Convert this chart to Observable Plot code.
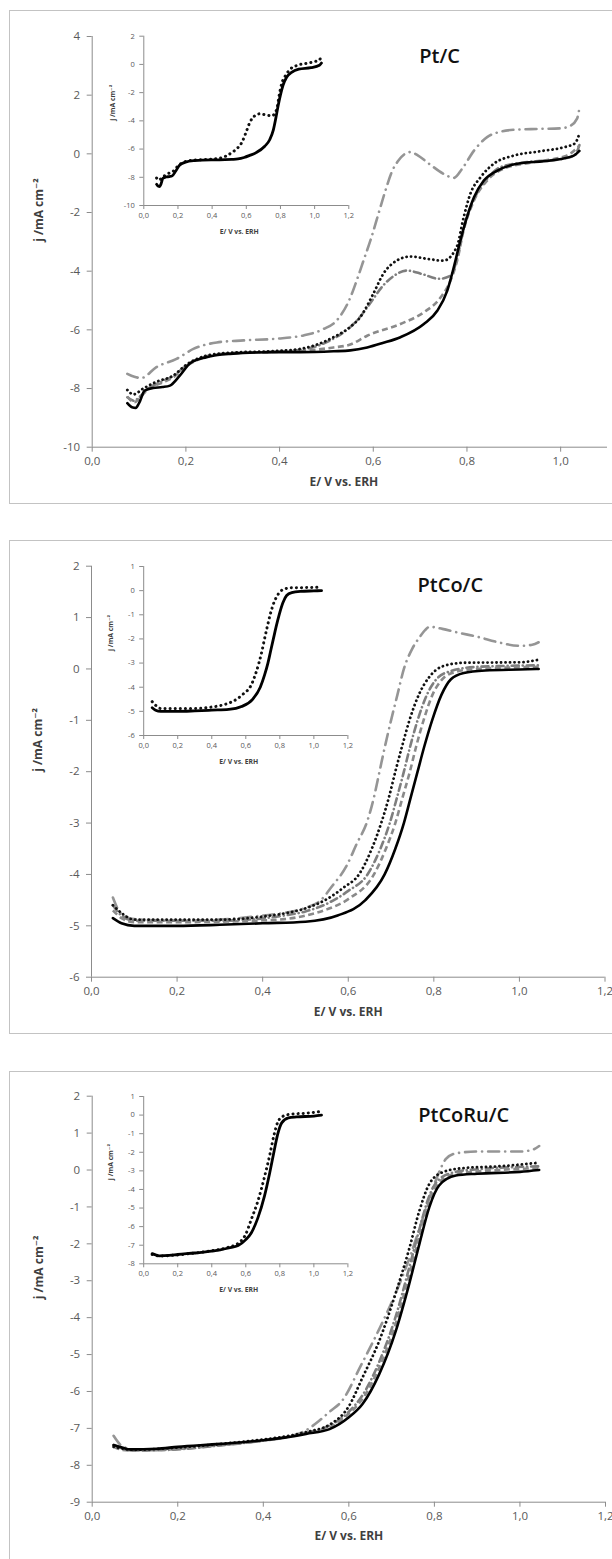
<!DOCTYPE html>
<html><head><meta charset="utf-8">
<script src="https://cdn.jsdelivr.net/npm/d3@7"></script>
<script src="https://cdn.jsdelivr.net/npm/@observablehq/plot@0.6"></script>
<style>
html,body{margin:0;padding:0;background:#fff;width:612px;height:1559px;overflow:hidden;}
#page{position:relative;width:612px;height:1559px;overflow:hidden;background:#fff;}
.frame{position:absolute;border:1px solid #c3c3c3;box-sizing:border-box;}
.layer{position:absolute;}
</style></head><body><div id="page"></div>
<script>
// ---------- DATA (E / V vs ERH, j / mA cm-2) ----------
const titles = ["Pt/C", "PtCo/C", "PtCoRu/C"];
const xLabel = "E/ V vs. ERH";
const yLabel = "j /mA cm\u207B\u00B2";

const mainXTicks = [0, 0.2, 0.4, 0.6, 0.8, 1.0];
const mainXTicks23 = [0, 0.2, 0.4, 0.6, 0.8, 1.0, 1.2];
const insetXTicks = [0, 0.2, 0.4, 0.6, 0.8, 1.0, 1.2];
const p1YTicks = [4, 2, 0, -2, -4, -6, -8, -10];
const p2YTicks = [2, 1, 0, -1, -2, -3, -4, -5, -6];
const p3YTicks = [2, 1, 0, -1, -2, -3, -4, -5, -6, -7, -8, -9];
const p1InsetYTicks = [2, 0, -2, -4, -6, -8, -10];
const p2InsetYTicks = [1, 0, -1, -2, -3, -4, -5, -6];
const p3InsetYTicks = [1, 0, -1, -2, -3, -4, -5, -6, -7, -8];

// Panel 1: Pt/C
const p1Solid = [[0.075,-8.5],[0.085,-8.64],[0.093,-8.66],[0.1,-8.5],[0.112,-8.07],[0.13,-7.98],[0.15,-7.95],[0.166,-7.9],[0.187,-7.56],[0.209,-7.14],[0.244,-6.93],[0.294,-6.82],[0.394,-6.76],[0.444,-6.76],[0.515,-6.73],[0.551,-6.7],[0.587,-6.6],[0.62,-6.45],[0.658,-6.25],[0.708,-5.8],[0.737,-5.34],[0.758,-4.66],[0.772,-3.86],[0.786,-2.95],[0.8,-2.16],[0.815,-1.48],[0.836,-0.91],[0.865,-0.57],[0.907,-0.34],[0.978,-0.23],[1.028,-0.06],[1.04,0.1]];
const p1Dotted = [[0.075,-8.05],[0.088,-8.2],[0.109,-8.0],[0.137,-7.77],[0.173,-7.56],[0.2,-7.2],[0.244,-6.88],[0.294,-6.78],[0.394,-6.72],[0.444,-6.65],[0.48,-6.5],[0.515,-6.25],[0.551,-5.9],[0.572,-5.57],[0.6,-4.77],[0.621,-4.1],[0.65,-3.64],[0.679,-3.5],[0.715,-3.58],[0.75,-3.64],[0.778,-3.18],[0.793,-2.16],[0.807,-1.37],[0.829,-0.8],[0.857,-0.34],[0.9,-0.06],[0.957,0.09],[1.013,0.25],[1.03,0.35],[1.04,0.68]];
const p1Dashed = [[0.075,-8.27],[0.09,-8.47],[0.1,-8.35],[0.12,-8.0],[0.15,-7.8],[0.175,-7.6],[0.2,-7.25],[0.244,-6.92],[0.294,-6.8],[0.394,-6.75],[0.444,-6.72],[0.515,-6.6],[0.551,-6.5],[0.587,-6.2],[0.658,-5.8],[0.708,-5.4],[0.744,-4.89],[0.765,-4.32],[0.779,-3.64],[0.793,-2.6],[0.815,-1.59],[0.843,-0.91],[0.878,-0.51],[0.943,-0.28],[1.013,-0.06],[1.04,0.28]];
const p1DashDot = [[0.075,-8.3],[0.09,-8.42],[0.1,-8.3],[0.12,-8.0],[0.15,-7.75],[0.175,-7.55],[0.2,-7.22],[0.244,-6.9],[0.294,-6.8],[0.394,-6.74],[0.444,-6.68],[0.48,-6.55],[0.515,-6.3],[0.551,-5.9],[0.568,-5.63],[0.593,-5.1],[0.621,-4.49],[0.645,-4.15],[0.672,-3.98],[0.705,-4.1],[0.74,-4.26],[0.765,-4.15],[0.78,-3.5],[0.793,-2.5],[0.815,-1.55],[0.843,-0.85],[0.872,-0.45],[0.93,-0.28],[1.0,-0.18],[1.03,-0.05],[1.04,0.3]];
const p1LongDashDot = [[0.075,-7.5],[0.09,-7.6],[0.105,-7.64],[0.137,-7.27],[0.18,-6.99],[0.216,-6.65],[0.266,-6.43],[0.323,-6.36],[0.394,-6.3],[0.451,-6.19],[0.494,-5.97],[0.522,-5.68],[0.551,-4.9],[0.565,-4.3],[0.58,-3.6],[0.595,-2.9],[0.61,-2.1],[0.625,-1.3],[0.64,-0.6],[0.655,-0.2],[0.67,0.02],[0.68,0.06],[0.695,-0.05],[0.72,-0.35],[0.75,-0.68],[0.772,-0.82],[0.79,-0.5],[0.815,0.11],[0.843,0.57],[0.87,0.75],[0.9,0.82],[0.95,0.85],[1.0,0.87],[1.02,0.95],[1.035,1.2],[1.04,1.55]];

// Panel 2: PtCo/C
const p2Solid = [[0.05,-4.85],[0.07,-4.95],[0.1,-5.0],[0.2,-5.0],[0.3,-4.98],[0.4,-4.95],[0.5,-4.92],[0.575,-4.8],[0.64,-4.5],[0.685,-4.0],[0.71,-3.5],[0.73,-3.0],[0.746,-2.5],[0.762,-2.0],[0.778,-1.5],[0.796,-1.0],[0.818,-0.5],[0.84,-0.2],[0.87,-0.08],[0.92,-0.03],[1.0,-0.01],[1.045,0.0]];
const p2Dashed = [[0.05,-4.7],[0.07,-4.85],[0.1,-4.93],[0.2,-4.93],[0.3,-4.92],[0.45,-4.87],[0.5,-4.8],[0.55,-4.68],[0.6,-4.48],[0.66,-4.0],[0.688,-3.5],[0.71,-3.0],[0.727,-2.5],[0.744,-2.0],[0.759,-1.5],[0.776,-1.0],[0.797,-0.5],[0.82,-0.2],[0.85,-0.06],[0.9,0.0],[1.045,0.04]];
const p2DashDot = [[0.05,-4.6],[0.07,-4.8],[0.1,-4.9],[0.2,-4.9],[0.3,-4.9],[0.45,-4.8],[0.5,-4.72],[0.55,-4.57],[0.6,-4.32],[0.645,-4.0],[0.675,-3.5],[0.697,-3.0],[0.714,-2.5],[0.73,-2.0],[0.745,-1.5],[0.762,-1.0],[0.784,-0.5],[0.806,-0.2],[0.84,-0.04],[0.9,0.04],[1.045,0.07]];
const p2Dotted = [[0.05,-4.6],[0.07,-4.75],[0.1,-4.88],[0.2,-4.88],[0.3,-4.88],[0.4,-4.82],[0.45,-4.76],[0.5,-4.66],[0.55,-4.48],[0.59,-4.25],[0.625,-4.0],[0.655,-3.5],[0.677,-3.0],[0.695,-2.5],[0.71,-2.0],[0.726,-1.5],[0.743,-1.0],[0.765,-0.5],[0.79,-0.15],[0.82,0.05],[0.87,0.12],[1.0,0.13],[1.045,0.18]];
const p2LongDashDot = [[0.05,-4.45],[0.06,-4.65],[0.08,-4.82],[0.1,-4.87],[0.2,-4.9],[0.3,-4.88],[0.4,-4.8],[0.45,-4.75],[0.5,-4.65],[0.536,-4.5],[0.563,-4.22],[0.595,-3.85],[0.62,-3.4],[0.645,-2.95],[0.66,-2.5],[0.673,-2.0],[0.686,-1.5],[0.7,-1.0],[0.715,-0.5],[0.73,0.0],[0.75,0.4],[0.767,0.62],[0.78,0.76],[0.79,0.82],[0.82,0.78],[0.86,0.7],[0.9,0.63],[0.95,0.52],[1.0,0.45],[1.03,0.47],[1.045,0.52]];

// Panel 3: PtCoRu/C
const p3Solid = [[0.05,-7.45],[0.07,-7.52],[0.09,-7.57],[0.15,-7.55],[0.2,-7.5],[0.3,-7.42],[0.4,-7.32],[0.45,-7.25],[0.5,-7.15],[0.555,-7.02],[0.6,-6.7],[0.632,-6.34],[0.671,-5.53],[0.71,-4.35],[0.741,-3.09],[0.765,-2.0],[0.788,-1.01],[0.811,-0.42],[0.85,-0.15],[0.9,-0.1],[1.0,-0.05],[1.045,0.0]];
const p3Dashed = [[0.05,-7.5],[0.07,-7.58],[0.1,-7.6],[0.2,-7.56],[0.3,-7.45],[0.4,-7.33],[0.5,-7.13],[0.55,-7.0],[0.6,-6.6],[0.632,-6.2],[0.671,-5.35],[0.71,-4.15],[0.741,-2.85],[0.765,-1.8],[0.788,-0.85],[0.811,-0.33],[0.85,-0.1],[0.9,-0.04],[1.045,0.05]];
const p3DashDot = [[0.05,-7.45],[0.07,-7.55],[0.1,-7.6],[0.2,-7.57],[0.3,-7.46],[0.4,-7.33],[0.5,-7.12],[0.55,-6.95],[0.6,-6.55],[0.632,-6.1],[0.671,-5.2],[0.71,-3.95],[0.741,-2.65],[0.765,-1.6],[0.788,-0.7],[0.811,-0.25],[0.85,-0.05],[0.9,0.02],[1.045,0.1]];
const p3Dotted = [[0.05,-7.5],[0.07,-7.55],[0.1,-7.58],[0.2,-7.52],[0.3,-7.42],[0.4,-7.3],[0.45,-7.22],[0.5,-7.1],[0.555,-6.9],[0.6,-6.4],[0.632,-5.62],[0.671,-4.63],[0.71,-3.32],[0.741,-2.14],[0.765,-1.1],[0.788,-0.38],[0.819,-0.06],[0.865,0.05],[0.95,0.1],[1.045,0.2]];
const p3LongDashDot = [[0.05,-7.2],[0.07,-7.48],[0.1,-7.58],[0.2,-7.55],[0.3,-7.45],[0.4,-7.33],[0.45,-7.25],[0.5,-7.05],[0.53,-6.8],[0.555,-6.55],[0.585,-6.24],[0.628,-5.3],[0.671,-4.31],[0.71,-3.32],[0.745,-2.28],[0.776,-1.19],[0.806,-0.2],[0.827,0.3],[0.85,0.45],[0.9,0.5],[1.0,0.5],[1.03,0.55],[1.045,0.65]];

// ---------- STYLES ----------
const axisColor = "#8c8c8c";
const tickTextColor = "#595959";
const labelColor = "#3f3f3f";
const FONT = "'Open Sans', 'DejaVu Sans', sans-serif";
const styleLongDashDot = {stroke: "#959595", strokeWidth: 2.6, strokeDasharray: "11,6,0.1,6", strokeLinecap: "round"};
const styleDashDot = {stroke: "#7e7e7e", strokeWidth: 2.6, strokeDasharray: "7,4,0.1,4", strokeLinecap: "round"};
const styleDashed = {stroke: "#8a8a8a", strokeWidth: 2.6, strokeDasharray: "6,3.5", strokeLinecap: "butt"};
const styleDotted = {stroke: "#111", strokeWidth: 2.8, strokeDasharray: "0.1,4.4", strokeLinecap: "round"};
const styleSolid = {stroke: "#000", strokeWidth: 2.6};

const fmtX = d => d.toFixed(1).replace(".", ",");
const fmtY = d => String(d);

const page = document.getElementById("page");
function addFrame(left, top, w, h) {
  const f = document.createElement("div");
  f.className = "frame";
  Object.assign(f.style, {left: left + "px", top: top + "px", width: w + "px", height: h + "px"});
  page.appendChild(f);
}
function addLayer(svg, left, top) {
  const d = document.createElement("div");
  d.className = "layer";
  d.style.left = left + "px"; d.style.top = top + "px";
  d.appendChild(svg);
  page.appendChild(d);
}

function line(data, style) {
  return Plot.line(data, {x: d => d[0], y: d => d[1], curve: "monotone-x", ...style});
}

function chart(o) {
  const marks = [
    Plot.ruleX([o.xDomain[0]], {stroke: axisColor, strokeWidth: 1}),
    Plot.ruleY([o.yDomain[0]], {stroke: axisColor, strokeWidth: 1}),
    Plot.axisY(o.yTicks, {anchor: "left", tickSize: o.tickSize, tickPadding: o.tickPaddingY, tickFormat: fmtY,
      stroke: axisColor, fill: tickTextColor, fontSize: o.tickFont, label: null}),
    Plot.axisX(o.xTicks, {anchor: "bottom", tickSize: o.tickSize, tickPadding: o.tickPaddingX, tickFormat: fmtX,
      stroke: axisColor, fill: tickTextColor, fontSize: o.tickFont, label: null}),
    ...o.series.map(([data, style]) => line(data, o.inset ? {...style, strokeWidth: style.strokeWidth + 0.2, strokeDasharray: style.strokeDasharray ? "0.1,5" : undefined} : style)),
    Plot.text([xLabel], {text: d => d, frameAnchor: "bottom", dy: o.xLabelDy, dx: o.xLabelDx, fontSize: o.labelFont, fontWeight: "bold", fill: labelColor}),
    Plot.text([yLabel], {text: d => d, frameAnchor: "left", rotate: -90, dx: o.yLabelDx, fontSize: o.labelFont, fontWeight: "bold", fill: labelColor})
  ];
  if (o.title) marks.push(Plot.text([o.title], {text: d => d, frameAnchor: "top-left", textAnchor: "start", dx: o.titleDx, dy: 12, fontSize: 20, fontWeight: 600, fill: "#111"}));
  return Plot.plot({
    width: o.width, height: o.height,
    marginLeft: o.m[3], marginRight: o.m[1], marginTop: o.m[0], marginBottom: o.m[2],
    x: {domain: o.xDomain, axis: null},
    y: {domain: o.yDomain, axis: null},
    style: {background: "transparent", maxWidth: "none", overflow: "visible", fontFamily: FONT},
    marks
  });
}

const mainCommon = {width: 640, height: 510, tickSize: 5, tickPaddingY: 7, tickPaddingX: 5, tickFont: 11.5, labelFont: 12, xLabelDy: 39, yLabelDx: -53};
const insetCommon = {width: 280, tickSize: 4, tickPaddingY: 5, tickPaddingX: 3, tickFont: 7.5, labelFont: 6.8, xLabelDy: 28, xLabelDx: -7, inset: true};

// Frames
addFrame(9, 10, 700, 494);
addFrame(9, 540, 700, 494);
addFrame(9, 1071, 700, 600);

// Panel 1
addLayer(chart({...mainCommon, title: titles[0], titleDx: 327, xLabelDx: -6,
  xDomain: [0, 1.1], yDomain: [-10, 4], xTicks: mainXTicks, yTicks: p1YTicks, m: [36, 33, 63.3, 91.7],
  series: [[p1LongDashDot, styleLongDashDot], [p1DashDot, styleDashDot], [p1Dashed, styleDashed], [p1Dotted, styleDotted], [p1Solid, styleSolid]]}), 0, 0);
addLayer(chart({...insetCommon, height: 230, yLabelDx: -30.6,
  xDomain: [0, 1.2], yDomain: [-10, 2], xTicks: insetXTicks, yTicks: p1InsetYTicks, m: [15.7, 31.7, 45, 43.3],
  series: [[p1Dotted, styleDotted], [p1Solid, styleSolid]]}), 100, 20);

// Panel 2
addLayer(chart({...mainCommon, title: titles[1], titleDx: 326, xLabelDx: 0,
  xDomain: [0, 1.2], yDomain: [-6, 2], xTicks: mainXTicks23, yTicks: p2YTicks, m: [35.7, 35.5, 63.3, 91],
  series: [[p2LongDashDot, styleLongDashDot], [p2DashDot, styleDashDot], [p2Dashed, styleDashed], [p2Dotted, styleDotted], [p2Solid, styleSolid]]}), 0, 530);
addLayer(chart({...insetCommon, height: 240, yLabelDx: -32.5,
  xDomain: [0, 1.2], yDomain: [-6, 1], xTicks: insetXTicks, yTicks: p2InsetYTicks, m: [16, 32.6, 55, 43.2],
  series: [[p2Dotted, styleDotted], [p2Solid, styleSolid]]}), 100, 550);

// Panel 3
addLayer(chart({...mainCommon, title: titles[2], titleDx: 326, xLabelDx: 0, xLabelDy: 38,
  xDomain: [0, 1.2], yDomain: [-9, 2], xTicks: mainXTicks23, yTicks: p3YTicks, m: [35.7, 35, 68.3, 91.7],
  series: [[p3LongDashDot, styleLongDashDot], [p3DashDot, styleDashDot], [p3Dashed, styleDashed], [p3Dotted, styleDotted], [p3Solid, styleSolid]]}), 0, 1060);
addLayer(chart({...insetCommon, height: 240, yLabelDx: -32.5,
  xDomain: [0, 1.2], yDomain: [-8, 1], xTicks: insetXTicks, yTicks: p3InsetYTicks, m: [16, 32.6, 56.7, 43.2],
  series: [[p3Dotted, styleDotted], [p3Solid, styleSolid]]}), 100, 1080);
</script>
</body></html>
